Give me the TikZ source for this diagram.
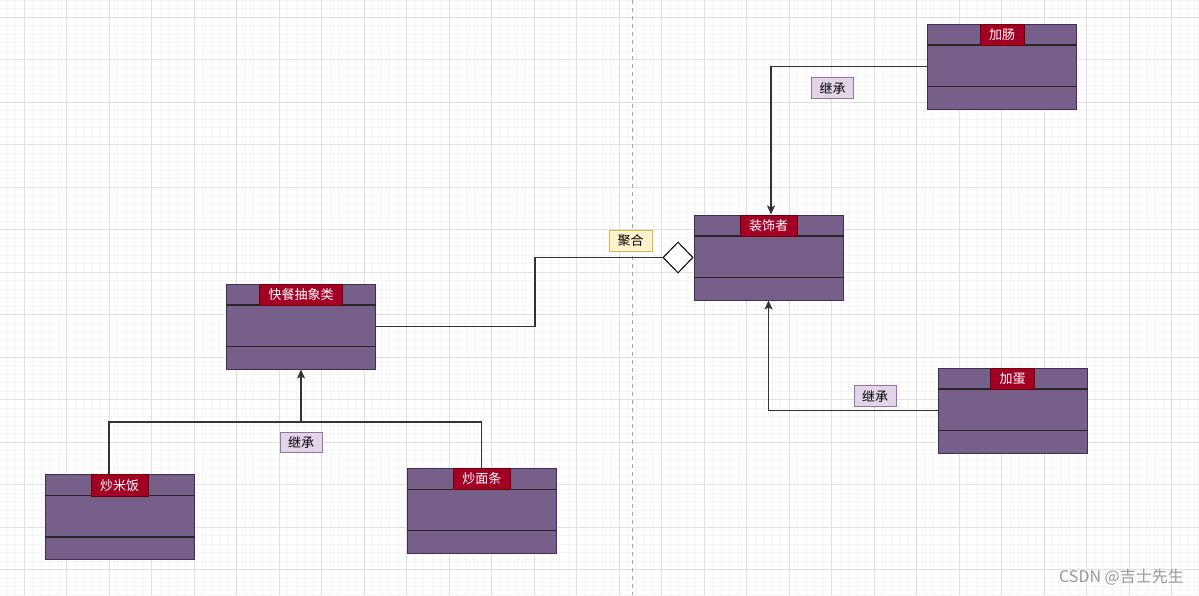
\documentclass[tikz,border=0pt]{standalone}
\usepackage{fontspec}
\setmainfont{Noto Sans CJK SC}
\usetikzlibrary{shapes.geometric,arrows.meta}
\definecolor{clsfill}{HTML}{76608A}
\definecolor{clsline}{HTML}{432D57}
\definecolor{ttlfill}{HTML}{A20025}
\definecolor{ttlline}{HTML}{6F0000}
\definecolor{lavfill}{HTML}{E1D5E7}
\definecolor{lavline}{HTML}{9673A6}
\definecolor{yelfill}{HTML}{FFF2CC}
\definecolor{yelline}{HTML}{D6B656}
\definecolor{minorc}{HTML}{F5F5F5}
\definecolor{majorc}{HTML}{E0E0E0}
\definecolor{connc}{HTML}{333333}
\tikzset{
  clsbox/.style={draw=clsline, fill=clsfill, line width=1pt, minimum width=149pt, minimum height=85pt, inner sep=0pt},
  divl/.style={draw=black!85, line width=1.3pt},
  ttl/.style={draw=ttlline, fill=ttlfill, text=white, line width=0.8pt, minimum height=21.5pt, inner xsep=9pt, inner ysep=0pt, font=\fontsize{13}{15}\selectfont},
  lavlbl/.style={draw=lavline, fill=lavfill, line width=1pt, minimum width=42pt, minimum height=20.5pt, inner sep=0pt, font=\fontsize{13}{15}\selectfont},
  yellbl/.style={draw=yelline, fill=yelfill, line width=1pt, minimum width=43pt, minimum height=20.5pt, inner sep=0pt, font=\fontsize{13}{15}\selectfont},
  conn/.style={draw=connc, line width=1.3pt},
  arr/.style={conn, -{Stealth[length=9pt,width=8pt,inset=2pt]}},
  minorg/.style={draw=minorc, line width=0.9pt},
  majorg/.style={draw=majorc, line width=1pt},
}
\newcommand{\umlcls}[4]{%
  \node[clsbox] (#1) at (#2,#3) {};
  \draw[divl] ([yshift=-21.5pt]#1.north west) -- ([yshift=-21.5pt]#1.north east);
  \draw[divl] ([yshift=-63pt]#1.north west) -- ([yshift=-63pt]#1.north east);
  \node[ttl, anchor=north] (#1-t) at (#1.north) {#4};
}
\begin{document}
\begin{tikzpicture}[x=1pt,y=-1pt]
\useasboundingbox (0,0) rectangle (1199,595);
\fill[white] (0,0) rectangle (1199,595);
% grid
\foreach \i in {-2,...,138} { \draw[minorg] (24+\i*8.5,0) -- (24+\i*8.5,595); }
\foreach \j in {-2,...,68} { \draw[minorg] (0,17+\j*8.5) -- (1199,17+\j*8.5); }
\foreach \i in {0,...,27} { \draw[majorg] (24+\i*42.5,0) -- (24+\i*42.5,595); }
\foreach \j in {0,...,13} { \draw[majorg] (0,17+\j*42.5) -- (1199,17+\j*42.5); }
\draw[draw=black!35, line width=1pt, dash pattern=on 4pt off 4pt] (632.5,0) -- (632.5,595);

% classes
\umlcls{kc}{301}{326.5}{快餐抽象类}
\umlcls{zs}{768.5}{257.5}{装饰者}
\umlcls{jc}{1002}{66.5}{加肠}
\umlcls{jd}{1012.5}{410.5}{加蛋}
\umlcls{cmf}{119.5}{517}{炒米饭}
\umlcls{cmt}{481.8}{510.8}{炒面条}

% aggregation diamond
\node[diamond, draw=black, fill=white, line width=1pt, minimum width=30pt, minimum height=31pt, inner sep=0pt, anchor=east] (dm) at (zs.west) {};

% connectors
\coordinate (j) at (301,422);
\draw[conn] ([xshift=-10.5pt]cmf.north) |- (j);
\draw[conn] (cmt.north) |- (j);
\draw[arr] (j) -- (kc.south);
\coordinate (b) at (535,326.5);
\draw[conn] (kc.east) -- (b) |- (dm.west);
\draw[arr] (jc.west) -| ([xshift=2.5pt]zs.north);
\draw[arr] (jd.west) -| (zs.south);

% labels
\node[lavlbl] (l1) at (301,442.5) {继承};
\node[yellbl] (l2) at (630.5,241) {聚合};
\node[lavlbl] (l3) at (832.5,88) {继承};
\node[lavlbl] (l4) at (875,396) {继承};

% watermark
\node[text=black!40, font=\fontsize{16}{18}\selectfont, anchor=east, inner sep=0pt] (wm) at (1184,577) {CSDN @吉士先生};
\end{tikzpicture}
\end{document}
